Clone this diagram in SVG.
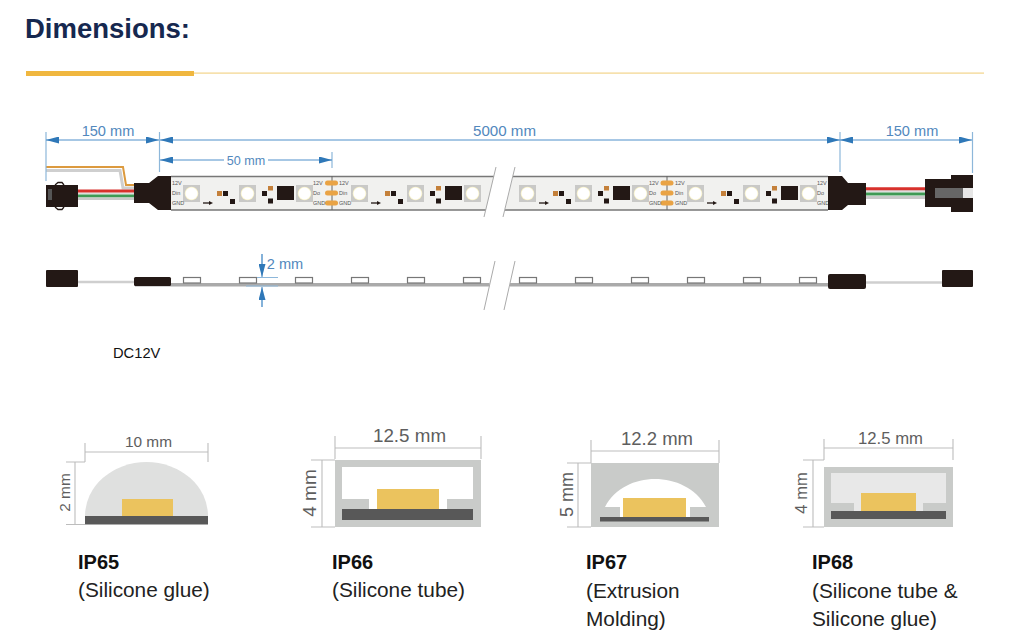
<svg xmlns="http://www.w3.org/2000/svg" width="1014" height="642" viewBox="0 0 1014 642">
<style>
text{font-family:"Liberation Sans",Arial,sans-serif}
.dim{fill:#5288bd;font-size:14.6px;text-anchor:middle}
.dl{stroke:#4f8fca;stroke-width:1;fill:none}
.tick{stroke:#8db7da;stroke-width:1.2;fill:none}
.blk{fill:#231815}
.strip{fill:#f1f1ef}
.edge{stroke:#777;stroke-width:1.6;fill:none}
.brk{stroke:#aaa;stroke-width:1;fill:none}
.led{fill:#c9c9c7}
.orn{fill:#c4803a}
.pad{fill:#e9a345}
.tiny{font-size:5.5px;fill:#555}
.chip{fill:#fff;stroke:#777;stroke-width:1.2}
.sd{stroke:#bdbdbd;stroke-width:1.1;fill:none}
.st{fill:#5e5e5e;text-anchor:middle}
.yl{fill:#ebc35e}
.dk{fill:#585858}
.gy{fill:#c9cbc9}
.ip{font-size:20px;font-weight:bold;fill:#111}
.cap{font-size:20.8px;fill:#222}
</style>
<defs>
<radialGradient id="glow"><stop offset="0.8" stop-color="#fff"/><stop offset="1" stop-color="#f6eeb8"/></radialGradient>
<marker id="ah" markerUnits="userSpaceOnUse" markerWidth="13" markerHeight="7" refX="13" refY="3.5" orient="auto-start-reverse"><path d="M0 0L13 3.5L0 7Z" fill="#2f78b8"/></marker>
<g id="ledcell"><rect class="led" width="17" height="17"/><circle cx="8.5" cy="8.5" r="6.8" fill="url(#glow)"/></g>
<g id="unit">
<use href="#ledcell" x="183" y="185"/>
<rect class="orn" x="217" y="191" width="5" height="5"/>
<rect class="blk" x="223" y="191" width="5" height="5"/>
<rect class="blk" x="230" y="199" width="5" height="5"/>
<path d="M203 203H210" stroke="#231815" stroke-width="1.3"/><path d="M209 201L213 203L209 205Z" class="blk"/>
<use href="#ledcell" x="239" y="185"/>
<rect class="blk" x="262" y="191" width="5" height="5"/>
<rect class="orn" x="268" y="186" width="5" height="4.500"/>
<rect class="blk" x="268" y="198.500" width="5" height="5"/>
<rect class="blk" x="277" y="186" width="17" height="14"/>
<use href="#ledcell" x="296" y="185"/>
</g>
<g id="pads"><rect class="pad" x="-7" y="-2.500" width="13" height="5" rx="2.500"/><rect class="pad" x="-7" y="7.500" width="13" height="5" rx="2.500"/><rect class="pad" x="-7" y="17.500" width="13" height="5" rx="2.500"/></g>
</defs>
<rect width="1014" height="642" fill="#fff"/>

<g id="title">
<text x="25" y="38" font-size="27.500" font-weight="bold" fill="#16284f">Dimensions:</text>
<rect x="26" y="71" width="168" height="5" fill="#f0b73f"/>
<rect x="194" y="72.500" width="790" height="1.200" fill="#f3d48a"/>
</g>

<g id="top-strip-left">
<path class="strip" d="M171 176H494L486 210H171Z"/>
<path class="edge" d="M171 176.500H494M171 210H486"/>
<path d="M332 176V210" stroke="#666" stroke-width="1"/>
<use href="#unit"/>
<use href="#unit" x="168"/>
<use href="#pads" x="332" y="183"/>
<text class="tiny" x="172" y="185">12V</text><text class="tiny" x="172" y="195">Din</text><text class="tiny" x="172" y="205">GND</text>
<text class="tiny" x="313" y="185">12V</text><text class="tiny" x="313" y="195">Do</text><text class="tiny" x="313" y="205">GND</text>
<text class="tiny" x="339" y="185">12V</text><text class="tiny" x="339" y="195">Din</text><text class="tiny" x="339" y="205">GND</text>
</g>
<g id="top-strip-right">
<path class="strip" d="M513 176H828V210H505Z"/>
<path class="edge" d="M513 176.500H828M505 210H828"/>
<path d="M667 176V210" stroke="#666" stroke-width="1"/>
<use href="#unit" x="336"/>
<use href="#unit" x="504"/>
<use href="#pads" x="667.500" y="183"/>
<text class="tiny" x="649" y="185">12V</text><text class="tiny" x="649" y="195">Do</text><text class="tiny" x="649" y="205">GND</text>
<text class="tiny" x="675" y="185">12V</text><text class="tiny" x="675" y="195">Din</text><text class="tiny" x="675" y="205">GND</text>
<text class="tiny" x="817" y="185">12V</text><text class="tiny" x="817" y="195">Do</text><text class="tiny" x="817" y="205">GND</text>
</g>

<g id="connectors">
<path d="M46 170.500H120L123 188H134" fill="none" stroke="#cfcfcf" stroke-width="3"/>
<path d="M46 167H123L126 185H134" fill="none" stroke="#dc9a3e" stroke-width="2"/>
<path d="M78 193.500H134" stroke="#ddd" stroke-width="2"/>
<path d="M78 191H134" stroke="#d8312c" stroke-width="3"/>
<path d="M78 196H134" stroke="#3f9a55" stroke-width="3"/>
<path d="M78 198.800H134" stroke="#c9c9c9" stroke-width="2.600"/>
<path d="M866 191.300H926" stroke="#ddd" stroke-width="2.500"/>
<path d="M866 188.700H926" stroke="#d8312c" stroke-width="3"/>
<path d="M866 194H926" stroke="#3f9a55" stroke-width="3"/>
<path d="M866 197.500H926" stroke="#c9c9c9" stroke-width="3"/>
<path d="M78 282H134" stroke="#cfcfcf" stroke-width="2.500"/>
<path d="M866 282.500H942" stroke="#cfcfcf" stroke-width="2.500"/>
</g>

<g id="plug-left">
<rect class="blk" x="46" y="185" width="32" height="22"/>
<rect x="48" y="189" width="4" height="11" fill="#555"/>
<path d="M55 185L58 182.500H62L64 185M55 207L58 209.500H62L64 207" fill="none" stroke="#231815" stroke-width="1.300"/>
</g>
<g id="boot-left"><path class="blk" d="M134 183H149L158 176H171V210H158L149 203H134Z"/></g>
<g id="boot-right"><path class="blk" d="M828 176H842L848 183H866V205H848L842 210H828Z"/></g>
<g id="plug-right">
<path class="blk" d="M925 179H951V175H973V212H951V207H925Z"/>
<rect x="935" y="188" width="28" height="10" fill="#666"/>
<rect x="963" y="188" width="10" height="10" fill="#e6e6e6"/>
</g>

<g id="dimensions">
<path class="tick" d="M46 132V181M159.500 132V172M840 132V172M972.500 132V173M332 152V168"/>
<path class="dl" d="M46 140H159" marker-start="url(#ah)" marker-end="url(#ah)"/>
<path class="dl" d="M160 140H840" marker-start="url(#ah)" marker-end="url(#ah)"/>
<path class="dl" d="M840 140H972" marker-start="url(#ah)" marker-end="url(#ah)"/>
<path class="dl" d="M160 160H224" marker-start="url(#ah)"/>
<path class="dl" d="M268 160H332" marker-end="url(#ah)"/>
<text class="dim" x="108" y="136">150 mm</text>
<text class="dim" x="504.500" y="136" style="font-size:15.100px">5000 mm</text>
<text class="dim" x="912" y="136">150 mm</text>
<text class="dim" x="246" y="164.500" style="font-size:12.600px">50 mm</text>
</g>

<g id="breaks">
<path class="brk" d="M496 167L484 217M515 167L503 217M495 261L484 310M515 261L504 310"/>
</g>

<g id="side-view">
<rect class="blk" x="46" y="270" width="32" height="17" rx="1"/>
<rect x="135" y="283" width="354.500" height="3.500" fill="#aaa"/>
<rect x="510" y="283" width="320" height="3.500" fill="#aaa"/>
<rect class="blk" x="134" y="277" width="37" height="9" rx="1.500"/>
<rect class="blk" x="828" y="274" width="38" height="15" rx="2"/>
<rect class="blk" x="942" y="270" width="31" height="17" rx="1"/>
<rect class="chip" x="183.500" y="277.500" width="17" height="5.500"/>
<rect class="chip" x="239.500" y="277.500" width="17" height="5.500"/>
<rect class="chip" x="295.500" y="277.500" width="17" height="5.500"/>
<rect class="chip" x="351.500" y="277.500" width="17" height="5.500"/>
<rect class="chip" x="407.500" y="277.500" width="17" height="5.500"/>
<rect class="chip" x="463.500" y="277.500" width="17" height="5.500"/>
<rect class="chip" x="519.500" y="277.500" width="17" height="5.500"/>
<rect class="chip" x="575.500" y="277.500" width="17" height="5.500"/>
<rect class="chip" x="631.500" y="277.500" width="17" height="5.500"/>
<rect class="chip" x="687.500" y="277.500" width="17" height="5.500"/>
<rect class="chip" x="743.500" y="277.500" width="17" height="5.500"/>
<rect class="chip" x="799.500" y="277.500" width="17" height="5.500"/>
<path class="tick" d="M257 277.500H278M246 286H278M262 254V265M262 298V307"/>
<path d="M262 254V277" class="dl" marker-end="url(#ah)"/>
<path d="M262 307V287" class="dl" marker-end="url(#ah)"/>
<text class="dim" x="285" y="269">2 mm</text>
</g>

<g id="voltage"><text x="113" y="358" font-size="14.700" fill="#111">DC12V</text></g>

<g id="ip65">
<path d="M85 516A61.500 54 0 0 1 208 516Z" fill="#dfe0df"/>
<rect class="yl" x="122" y="499" width="51" height="17"/>
<rect class="dk" x="85" y="516" width="123" height="8.500"/>
<path class="sd" d="M85 443V462M208 443V462M85 452H208M66 462H85M75 462V524M66 524.500H85"/>
<text class="st" x="148.500" y="447" font-size="15.400">10 mm</text>
<text class="st" transform="translate(70 492.500) rotate(-90)" font-size="15.400">2 mm</text>
<text class="ip" x="78" y="569">IP65</text>
<text class="cap" x="78" y="597">(Silicone glue)</text>
</g>

<g id="ip66">
<rect class="gy" x="335" y="460" width="146" height="67"/>
<rect x="342" y="467" width="131" height="42" fill="#fff"/>
<rect class="gy" x="342" y="499" width="27" height="10"/>
<rect class="gy" x="447" y="499" width="26" height="10"/>
<rect class="yl" x="377" y="489" width="62" height="20"/>
<rect class="dk" x="342" y="509" width="131" height="11"/>
<path class="sd" d="M335 436V459M481 436V459M335 448H481M311 460H335M322 460V527M311 527H335"/>
<text class="st" x="409.500" y="442" font-size="18.800">12.5 mm</text>
<text class="st" transform="translate(316 493) rotate(-90)" font-size="19">4 mm</text>
<text class="ip" x="332" y="569">IP66</text>
<text class="cap" x="332" y="597">(Silicone tube)</text>
</g>

<g id="ip67">
<rect class="gy" x="591" y="463" width="128" height="64"/>
<path d="M605 507C615 488 635 479 655 479C675 479 696 488 706 507H690V517H620V507Z" fill="#fff"/>
<rect class="yl" x="623" y="498" width="63" height="19"/>
<rect class="dk" x="600" y="517" width="109" height="4.500"/>
<path class="sd" d="M591 440V463M719 440V463M591 451H719M567 463H591M578 463V527M567 527H591"/>
<text class="st" x="657" y="445" font-size="18.500">12.2 mm</text>
<text class="st" transform="translate(573 494.500) rotate(-90)" font-size="18">5 mm</text>
<text class="ip" x="586" y="569">IP67</text>
<text class="cap" x="586" y="598">(Extrusion</text>
<text class="cap" x="586" y="626">Molding)</text>
</g>

<g id="ip68">
<rect class="gy" x="824" y="467" width="129" height="60"/>
<rect x="831" y="473" width="115" height="38" fill="#e8e8e8"/>
<rect class="gy" x="831" y="503" width="23" height="8"/>
<rect class="gy" x="923" y="503" width="23" height="8"/>
<rect class="yl" x="861" y="493" width="55" height="18"/>
<rect class="dk" x="831" y="511" width="115" height="8"/>
<path class="sd" d="M824 439V460M953 439V460M824 448H953M803 460H824M813 460V527M803 527H824"/>
<text class="st" x="890.500" y="444" font-size="16.700">12.5 mm</text>
<text class="st" transform="translate(807 493) rotate(-90)" font-size="16.500">4 mm</text>
<text class="ip" x="812" y="569">IP68</text>
<text class="cap" x="812" y="598">(Silicone tube &amp;</text>
<text class="cap" x="812" y="626">Silicone glue)</text>
</g>
</svg>
